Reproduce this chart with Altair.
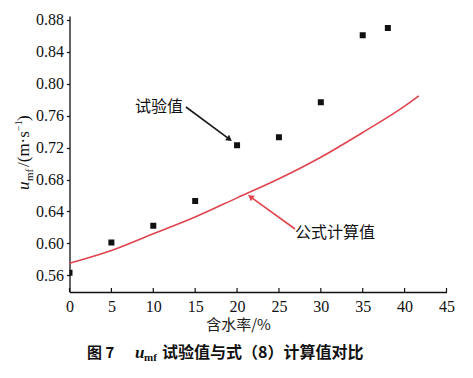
import altair as alt
import pandas as pd

# experimental values (test values)
exp_x = [0, 5, 10, 15, 20, 25, 30, 35, 38]
exp_y = [0.563, 0.601, 0.622, 0.653, 0.723, 0.733, 0.777, 0.861, 0.870]
# formula (8) calculated curve
calc_x = [0, 5, 10, 15, 20, 25, 30, 35, 40, 41.7]
calc_y = [0.575, 0.591, 0.612, 0.633, 0.657, 0.681, 0.708, 0.739, 0.772, 0.785]
x_ticks = [0, 5, 10, 15, 20, 25, 30, 35, 40, 45]
y_ticks = [0.56, 0.60, 0.64, 0.68, 0.72, 0.76, 0.80, 0.84, 0.88]

# annotation anchors (data coords)
ann_exp = {"label": "试验值", "tx": 13.66, "ty": 0.7709, "x1": 13.9, "y1": 0.7709, "x2": 19.0, "y2": 0.7313, "ang": 126.5}
ann_calc = {"label": "公式计算值", "tx": 26.92, "ty": 0.613, "x1": 26.92, "y1": 0.618, "x2": 21.69, "y2": 0.6577, "ang": 306}

W, H = 377, 276
XD = [0, 45]
YD = [0.539, 0.885]
RED = "#e0444e"
SERIF = "Liberation Serif"
CJK = "Noto Sans CJK SC"

xs = alt.Scale(domain=XD, nice=False, zero=False)
ys = alt.Scale(domain=YD, nice=False, zero=False)

exp_df = pd.DataFrame({"x": exp_x, "y": exp_y})
calc_df = pd.DataFrame({"x": calc_x, "y": calc_y})
one = pd.DataFrame({"a": [0]})

xaxis = alt.Axis(values=x_ticks, title=None, grid=False, tickSize=0, labelPadding=6,
                 labelFont=SERIF, labelFontSize=16, labelColor="#111", domainColor="#111",
                 domainWidth=1.3, labelFlush=False, labelOverlap=False)
yaxis = alt.Axis(values=y_ticks, title=None, grid=False, tickSize=3, labelPadding=3,
                 format=".2f", labelFont=SERIF, labelFontSize=16, labelColor="#111",
                 domainColor="#111", domainWidth=1.3, tickColor="#111", tickWidth=1.2,
                 labelOverlap=False, labelFlush=False)


def X(f):
    return alt.X(f, type="quantitative", scale=xs, axis=xaxis)


def Y(f):
    return alt.Y(f, type="quantitative", scale=ys, axis=yaxis)


curve = alt.Chart(calc_df).mark_line(color=RED, strokeWidth=1.6, interpolate="monotone").encode(
    x=X("x"), y=Y("y"),
)

pts = alt.Chart(exp_df).mark_point(shape="square", filled=True, color="#111", size=36, opacity=1, clip=True).encode(
    x=X("x"), y=Y("y"),
)

# inward x ticks
xt = alt.Chart(pd.DataFrame({"x": x_ticks})).mark_rule(color="#111", strokeWidth=1.2).encode(
    x=X("x"),
    y=alt.value(H - 4),
    y2=alt.value(H),
)


def annotation(a, color):
    df = pd.DataFrame([a])
    line = alt.Chart(df).mark_rule(color=color, strokeWidth=1.6).encode(
        x=X("x1"), y=Y("y1"), x2="x2:Q", y2="y2:Q")
    head = alt.Chart(df).mark_point(shape="triangle", filled=True, color=color, size=45,
                                    opacity=1, angle=a["ang"]).encode(
        x=X("x2"), y=Y("y2"))
    return line + head


txt_exp = alt.Chart(pd.DataFrame([ann_exp])).mark_text(
    font=CJK, fontSize=16, color="#111", align="right", baseline="middle", dx=-1).encode(
    x=X("tx"), y=Y("ty"), text="label:N")
txt_calc = alt.Chart(pd.DataFrame([ann_calc])).mark_text(
    font=CJK, fontSize=16, color="#111", align="left", baseline="middle").encode(
    x=X("tx"), y=Y("ty"), text="label:N")


def ptext(text, x, y, **kw):
    return alt.Chart(one).mark_text(text=text, **kw).encode(x=alt.value(x), y=alt.value(y))


# y axis title: u_mf/(m·s^-1), rotated
ytitle = [
    ptext("u", -41, 174, angle=270, align="left", baseline="alphabetic", font=SERIF, fontStyle="italic", fontSize=17, color="#111"),
    ptext("mf", -37, 165, angle=270, align="left", baseline="alphabetic", font=SERIF, fontSize=11, color="#111"),
    ptext("/(m·s", -41, 151, angle=270, align="left", baseline="alphabetic", font=SERIF, fontSize=17, color="#111"),
    ptext("−1", -48, 115, angle=270, align="left", baseline="alphabetic", font=SERIF, fontSize=10, color="#111"),
    ptext(")", -41, 105, angle=270, align="left", baseline="alphabetic", font=SERIF, fontSize=17, color="#111"),
]

xtitle = ptext("含水率/%", 169, 309, align="center", baseline="middle", font=CJK, fontSize=15, color="#222")

caption = [
    ptext("图 7", 17.5, 342, align="left", baseline="alphabetic", font=CJK, fontWeight="bold", fontSize=15, color="#111"),
    ptext("u", 65.5, 342, align="left", baseline="alphabetic", font=SERIF, fontWeight="bold", fontStyle="italic", fontSize=17, color="#111"),
    ptext("mf", 74.5, 345, align="left", baseline="alphabetic", font=SERIF, fontWeight="bold", fontSize=11, color="#111"),
    ptext("试验值与式（8）计算值对比", 92.5, 342, align="left", baseline="alphabetic", font=CJK, fontWeight="bold", fontSize=16, color="#111"),
]

chart = alt.layer(
    curve, pts, xt,
    annotation(ann_exp, "#1a1a1a"), annotation(ann_calc, RED),
    txt_exp, txt_calc, xtitle, *ytitle, *caption,
).properties(
    width=W, height=H,
    autosize=alt.AutoSizeParams(type="none"),
    padding={"left": 61.5, "top": 8, "right": 18.5, "bottom": 78},
    background="white",
).configure_view(stroke=None).configure_axis(labelOverlap=False)

chart.save("out.html", embed_options={"renderer": "svg", "actions": False})
